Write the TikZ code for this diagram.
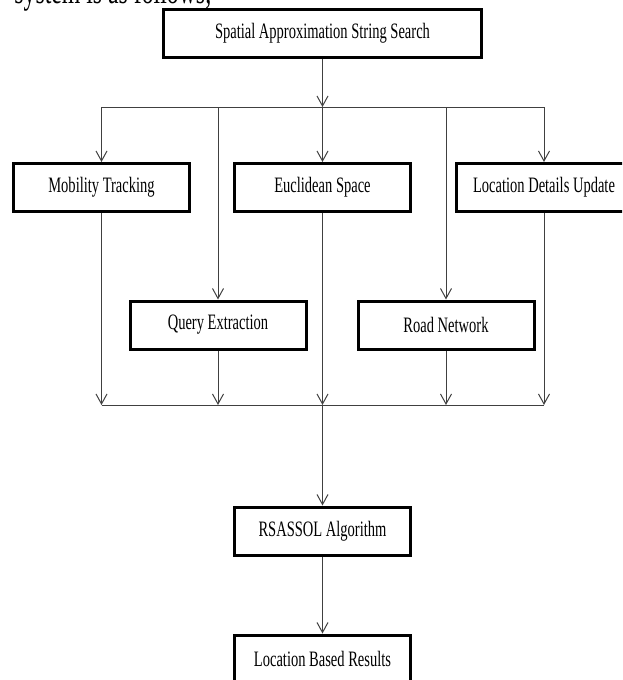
\documentclass[tikz,border=0pt]{standalone}
\usepackage{fontspec}
\newfontfamily\boxfont{Liberation Serif}[FakeStretch=0.66]
\usetikzlibrary{arrows.meta}

\begin{document}
\begin{tikzpicture}[x=1pt, y=-1pt,
        block/.style={draw=black, line width=3pt, minimum width=176pt, minimum height=48pt,
            inner sep=0pt, font=\boxfont\fontsize{22}{24}\selectfont},
        flow/.style={draw=black!75, line width=1pt, -{Straight Barb[length=10pt, width=11pt, line width=1pt]}},
        bus/.style={draw=black!75, line width=1pt}]
        \useasboundingbox (0,0) rectangle (622,680);
        \clip (0,0) rectangle (622,680);

        % Text above the chart (cut off by the page)
        \node[anchor=base east, inner sep=0pt, font=\boxfont\fontsize{36}{40}\selectfont] (intro) at (212,4) {system is as follows;};

        % --- TOP ---
        \node[block, minimum width=318pt] (search) at (322.5,33.5) {Spatial Approximation String Search};

        % --- ROW 1 ---
        \node[block] (mobility) at (101.5,187.5) {Mobility Tracking};
        \node[block] (euclid) at (322.5,187.5) {Euclidean Space};
        \node[block] (update) at (544,187.5) {Location Details Update};

        % --- ROW 2 ---
        \node[block] (query) at (218,325) {Query Extraction};
        \node[block] (road) at (446,325) {Road Network};

        % --- BOTTOM ---
        \node[block] (rsassol) at (322.5,531) {RSASSOL Algorithm};
        \node[block] (results) at (322.5,659) {Location Based Results};

        % Bus lines
        \coordinate (split) at (322.5,107);
        \coordinate (join) at (322.5,405);

        \draw[flow] (search) -- (split);
        \draw[bus] (mobility |- split) -- (update |- split);
        \draw[flow] (mobility |- split) -- (mobility);
        \draw[flow] (split) -- (euclid);
        \draw[flow] (update |- split) -- (update);
        \draw[flow] (query |- split) -- (query);
        \draw[flow] (road |- split) -- (road);

        \draw[flow] (mobility) -- (mobility |- join);
        \draw[flow] (query) -- (query |- join);
        \draw[flow] (euclid) -- (join);
        \draw[flow] (road) -- (road |- join);
        \draw[flow] (update) -- (update |- join);
        \draw[bus] (mobility |- join) -- (update |- join);

        \draw[flow] (join) -- (rsassol);
        \draw[flow] (rsassol) -- (results);
    \end{tikzpicture}
\end{document}
